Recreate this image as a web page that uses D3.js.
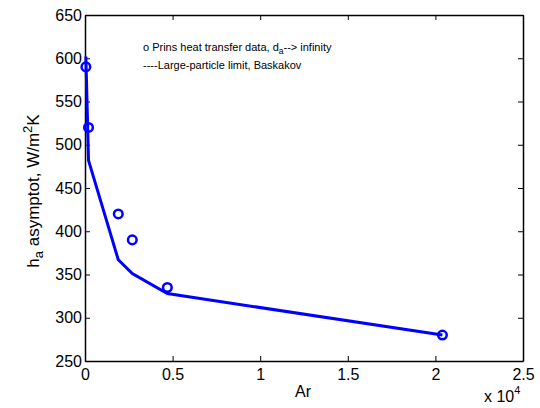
<!DOCTYPE html>
<html>
<head>
<meta charset="utf-8">
<script src="https://cdn.jsdelivr.net/npm/d3@7"></script>
<style>
  body { margin: 0; background: #fff; }
  svg text { font-family: "Liberation Sans", Arial, sans-serif; fill: #000; }
</style>
</head>
<body>
<svg id="chart" width="540" height="408"></svg>
<script>
// Prins data (circles)
var prinsAr = [50, 200, 1900, 2700, 4700, 20400];
var prinsH = [590, 520, 420, 390, 335, 280];

// Large-particle limit, Baskakov (line)
var limitAr = [50, 200, 1900, 2700, 4700, 20400];
var limitH = [602, 482, 367, 351, 328, 280];

var xTicks = [0, 5000, 10000, 15000, 20000, 25000];
var yTicks = [250, 300, 350, 400, 450, 500, 550, 600, 650];

var svg = d3.select('#chart');
var plotL = 85, plotR = 523, plotT = 15, plotB = 361;
var blue = '#0000ff';

var x = d3.scaleLinear().domain([0, 25000]).range([plotL, plotR]);
var y = d3.scaleLinear().domain([250, 650]).range([plotB, plotT]);

function tickFmt(d) { return d3.format('~g')(d / 10000); }

// box axes, ticks pointing inward
svg.append('g')
  .attr('transform', 'translate(0,' + plotB + ')')
  .call(d3.axisBottom(x).tickValues(xTicks).tickSizeInner(-5).tickSizeOuter(0).tickPadding(8).tickFormat(tickFmt));
svg.append('g')
  .attr('transform', 'translate(0,' + plotT + ')')
  .call(d3.axisTop(x).tickValues(xTicks).tickSizeInner(-5).tickSizeOuter(0).tickFormat(''));
svg.append('g')
  .attr('transform', 'translate(' + plotL + ',0)')
  .call(d3.axisLeft(y).tickValues(yTicks).tickSizeInner(-5).tickSizeOuter(0).tickPadding(3));
svg.append('g')
  .attr('transform', 'translate(' + plotR + ',0)')
  .call(d3.axisRight(y).tickValues(yTicks).tickSizeInner(-5).tickSizeOuter(0).tickFormat(''));

svg.selectAll('.domain').attr('stroke', '#000').attr('stroke-width', 1.5);
svg.selectAll('.tick line').attr('stroke', '#000');
svg.selectAll('.tick text')
  .attr('font-family', null)
  .attr('font-size', null)
  .style('font-size', '16px')
  .style('fill', '#000');

// line
var line = d3.line()
  .x(function (d, i) { return x(limitAr[i]); })
  .y(function (d) { return y(d); });
svg.append('path')
  .datum(limitH)
  .attr('d', line)
  .attr('fill', 'none')
  .attr('stroke', blue)
  .attr('stroke-width', 3)
  .attr('stroke-linejoin', 'miter');

// circles
svg.selectAll('circle.prins')
  .data(prinsH)
  .enter()
  .append('circle')
  .attr('class', 'prins')
  .attr('cx', function (d, i) { return x(prinsAr[i]); })
  .attr('cy', function (d) { return y(d); })
  .attr('r', 4.3)
  .attr('fill', 'none')
  .attr('stroke', blue)
  .attr('stroke-width', 2.5);

// text notes in the plot
var note = svg.append('g').style('font-size', '11px');
var t1 = note.append('text').attr('x', 143).attr('y', 51);
t1.append('tspan').text('o Prins heat transfer data, d');
t1.append('tspan').attr('dy', 3).style('font-size', '8.5px').text('a');
t1.append('tspan').attr('dy', -3).text('--> infinity');
note.append('text').attr('x', 143).attr('y', 69).text('----Large-particle limit, Baskakov');

// axis labels
svg.append('text')
  .attr('x', 303).attr('y', 397)
  .attr('text-anchor', 'middle')
  .style('font-size', '16px')
  .text('Ar');

var yl = svg.append('text')
  .attr('transform', 'translate(39,191) rotate(-90)')
  .attr('text-anchor', 'middle')
  .style('font-size', '17px');
yl.append('tspan').text('h');
yl.append('tspan').attr('dy', 4).style('font-size', '13px').text('a');
yl.append('tspan').attr('dy', -4).text(' asymptot, W/m');
yl.append('tspan').attr('dy', -7).style('font-size', '13px').text('2');
yl.append('tspan').attr('dy', 7).text('K');

var ex = svg.append('text')
  .attr('x', 484).attr('y', 402)
  .style('font-size', '16px');
ex.append('tspan').text('x 10');
ex.append('tspan').attr('dy', -8).style('font-size', '11px').text('4');
</script>
</body>
</html>
